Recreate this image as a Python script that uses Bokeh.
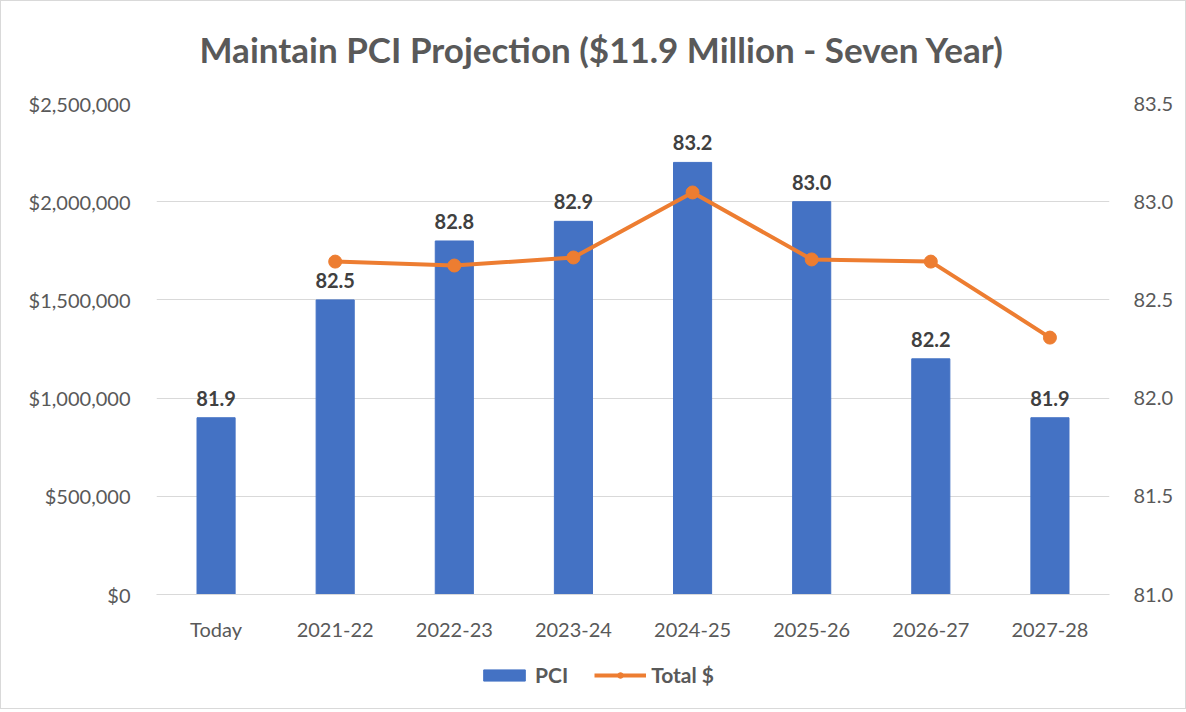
from bokeh.plotting import figure
from bokeh.layouts import column
from bokeh.models import (ColumnDataSource, LinearAxis, Range1d, FixedTicker,
                          NumeralTickFormatter, LabelSet, Legend, LegendItem, Title)
from bokeh.core.properties import value
from bokeh.embed import file_html
from bokeh.resources import INLINE

categories = ["Today", "2021-22", "2022-23", "2023-24", "2024-25", "2025-26", "2026-27", "2027-28"]
pci = [81.9, 82.5, 82.8, 82.9, 83.2, 83.0, 82.2, 81.9]
line_cats = ["2021-22", "2022-23", "2023-24", "2024-25", "2025-26", "2026-27", "2027-28"]
total_dollars = [1695000, 1675000, 1716000, 2047000, 1706000, 1695000, 1308000]
left_ticks = [0, 500000, 1000000, 1500000, 2000000, 2500000]
right_ticks = [81.0, 81.5, 82.0, 82.5, 83.0, 83.5]

FONT = "Lato"
TXT = "#595959"
BLUE = "#4472C4"
ORANGE = "#ED7D31"

bar_src = ColumnDataSource(dict(cat=categories, pci=pci,
                                lbl=[f"{v:.1f}" for v in pci],
                                base=[right_ticks[0]] * len(pci)))
line_src = ColumnDataSource(dict(cat=line_cats, total=total_dollars))

p = figure(x_range=categories, y_range=Range1d(0, 2500000),
           frame_width=953, frame_height=491, output_backend="svg", toolbar_location=None,
           min_border_left=155, min_border_right=74, min_border_top=102, min_border_bottom=52)
p.extra_y_ranges = {"pci": Range1d(81.0, 83.5)}

p.title = Title(text="Maintain PCI Projection ($11.9 Million - Seven Year)", align="left",
                offset=43, vertical_align="top",
                text_font=FONT, text_font_size="35px", text_font_style="bold",
                text_color=TXT, standoff=51)
# thin spacer between title and plot area
p.add_layout(Title(text=" ", text_font_size="1px", standoff=3), "above")

p.vbar(x="cat", top="pci", bottom="base", width=0.32, source=bar_src,
       y_range_name="pci", color=BLUE)
p.line(x="cat", y="total", source=line_src, line_color=ORANGE, line_width=4)
p.scatter(x="cat", y="total", source=line_src, size=13, fill_color=ORANGE, line_color=ORANGE)

labels = LabelSet(x="cat", y="pci", text="lbl", source=bar_src, y_range_name="pci",
                  text_align="center", text_baseline="bottom", y_offset=12,
                  text_font=value(FONT), text_font_size=value("20px"),
                  text_font_style=value("bold"), text_color=value("#404040"))
p.add_layout(labels)

p.yaxis.ticker = FixedTicker(ticks=left_ticks)
p.yaxis.formatter = NumeralTickFormatter(format="$0,0")
right = LinearAxis(y_range_name="pci", ticker=FixedTicker(ticks=right_ticks))
right.formatter = NumeralTickFormatter(format="0.0")
p.add_layout(right, "right")

for ax in [p.yaxis[0], right]:
    ax.axis_line_color = None
    ax.major_tick_line_color = None
    ax.minor_tick_line_color = None
    ax.major_label_text_font = FONT
    ax.major_label_text_font_size = "20px"
    ax.major_label_text_color = TXT
p.yaxis[0].major_label_standoff = 20
right.major_label_standoff = 18

p.xaxis.axis_line_color = "#d9d9d9"
p.xaxis.major_tick_line_color = None
p.xaxis.minor_tick_line_color = None
p.xaxis.major_label_text_font = FONT
p.xaxis.major_label_text_font_size = "20px"
p.xaxis.major_label_text_color = TXT
p.xaxis.major_label_standoff = 16

p.xgrid.grid_line_color = None
p.ygrid.grid_line_color = "#d9d9d9"
p.ygrid.grid_line_width = 1
p.outline_line_color = None

# legend strip: placeholder rows (NaN heights) only carry the legend styling
lg = figure(x_range=p.x_range, y_range=Range1d(0, 1), width=1184, height=62,
            output_backend="svg", toolbar_location=None,
            min_border=0, x_axis_type=None, y_axis_type=None)
lg.grid.grid_line_color = None
lg.outline_line_color = None
nan = float("nan")
key_src = ColumnDataSource(dict(cat=[categories[0]], y=[nan], top=[nan], base=[nan]))
r_bar = lg.vbar(x="cat", top="top", bottom="base", width=0.32, source=key_src, color=BLUE)
r_ln = lg.line(x="cat", y="y", source=key_src, line_color=ORANGE, line_width=4)
r_sc = lg.scatter(x="cat", y="y", source=key_src, size=13,
                  fill_color=ORANGE, line_color=ORANGE)

legend = Legend(items=[LegendItem(label="PCI", renderers=[r_bar]),
                       LegendItem(label="Total $", renderers=[r_ln, r_sc])],
                orientation="horizontal", location=(322, 21),
                border_line_color=None, background_fill_alpha=0,
                glyph_width=52, glyph_height=14, spacing=26,
                label_text_font=FONT, label_text_font_size="21px",
                label_text_font_style="bold", label_text_color=TXT,
                label_standoff=5, margin=0, padding=6)
lg.add_layout(legend, "center")

layout = column(p, lg, spacing=0)
layout.styles = {"border": "1px solid #d9d9d9"}

open("out.html", "w").write(file_html(layout, INLINE))
